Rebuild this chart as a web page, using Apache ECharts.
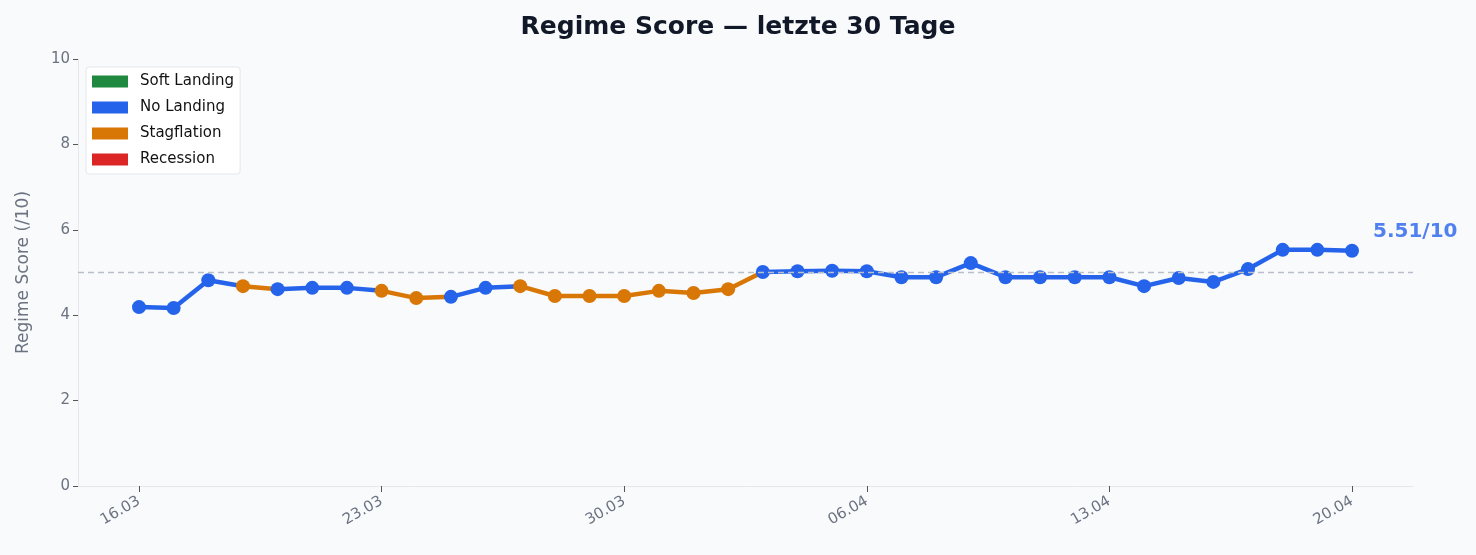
<!DOCTYPE html>
<html><head><meta charset="utf-8">
<script src="https://cdn.jsdelivr.net/npm/echarts@6/dist/echarts.min.js"></script>
<style>html,body{margin:0;padding:0;background:#f8fafc}#c{width:1476px;height:555px}</style>
</head><body><div id="c"></div>
<script>
const dates = ["16.03","17.03","18.03","19.03","20.03","21.03","22.03","23.03","24.03","25.03","26.03","27.03","28.03","29.03","30.03","31.03","01.04","02.04","03.04","04.04","05.04","06.04","07.04","08.04","09.04","10.04","11.04","12.04","13.04","14.04","15.04","16.04","17.04","18.04","19.04","20.04"];
const scores = [4.19,4.17,4.82,4.68,4.61,4.64,4.64,4.57,4.40,4.43,4.64,4.68,4.45,4.45,4.45,4.57,4.52,4.61,5.01,5.03,5.04,5.03,4.89,4.89,5.22,4.89,4.89,4.89,4.89,4.68,4.87,4.78,5.08,5.53,5.53,5.51];
const regimes = ["N","N","N","S","N","N","N","S","S","N","N","S","S","S","S","S","S","S","N","N","N","N","N","N","N","N","N","N","N","N","N","N","N","N","N","N"];
const tickLabels = ["16.03","23.03","30.03","06.04","13.04","20.04"];
const tickIdx = [0,7,14,21,28,35];
const regimeNames = ["Soft Landing","No Landing","Stagflation","Recession"];
const regimeColors = {"Soft Landing":"#1f8a3f","No Landing":"#2563eb","Stagflation":"#d97706","Recession":"#dc2626"};
const code = {N:"No Landing",S:"Stagflation",G:"Soft Landing",R:"Recession"};

const series = [];
regimeNames.forEach(n => series.push({name:n,type:'line',data:[],itemStyle:{color:regimeColors[n]},lineStyle:{color:regimeColors[n]}}));
for (let i=0;i<scores.length-1;i++){
  const c = regimeColors[code[regimes[i]]];
  series.push({type:'line',silent:true,symbol:'none',data:[[i,scores[i]],[i+1,scores[i+1]]],lineStyle:{width:4.5,color:c},z:2});
}
series.push({type:'scatter',symbolSize:14,z:3,
  data:scores.map((v,i)=>({value:[i,v],itemStyle:{color:regimeColors[code[regimes[i]]],opacity:1}})),
  markLine:{silent:true,symbol:'none',label:{show:false},lineStyle:{color:'#b8bfcb',type:[6,4],width:1.3},data:[{yAxis:5}]}
});
series.push({type:'scatter',symbolSize:0,data:[[scores.length-1,scores[scores.length-1]]],
  label:{show:true,position:[21,-29],formatter:p=>p.value[1].toFixed(2)+'/10',color:'#2563eb',fontWeight:'bold',fontSize:20,fontFamily:'DejaVu Sans'}});

const chart = echarts.init(document.getElementById('c'));
chart.setOption({
  backgroundColor:'#f8fafc',
  animation:false,
  textStyle:{fontFamily:'DejaVu Sans'},
  title:{text:'Regime Score — letzte 30 Tage',left:'center',top:10,textStyle:{fontSize:25,fontWeight:'bold',color:'#111827',fontFamily:'DejaVu Sans'}},
  legend:{data:regimeNames,orient:'vertical',left:86,top:67,icon:'rect',itemWidth:36,itemHeight:12,itemGap:11,
    backgroundColor:'#ffffff',borderColor:'#e5e7eb',borderWidth:1,borderRadius:3,padding:[7,6,7,6],
    textStyle:{fontSize:15,color:'#111',padding:[0,0,0,7]}},
  grid:{left:78,right:63,top:59,bottom:69},
  xAxis:{type:'value',min:-1.76,max:36.76,
    axisLine:{lineStyle:{color:'#e5e7eb'}},
    axisTick:{show:true,customValues:tickIdx,length:6,lineStyle:{color:'#555'}},
    axisLabel:{customValues:tickIdx,formatter:v=>tickLabels[tickIdx.indexOf(Math.round(v))]||'',rotate:30,color:'#6b7280',fontSize:15,margin:14},
    splitLine:{show:false}},
  yAxis:{type:'value',min:0,max:10,interval:2,name:'Regime Score (/10)',nameLocation:'middle',nameGap:46,
    nameTextStyle:{color:'#6b7280',fontSize:17},
    axisLine:{show:true,onZero:false,lineStyle:{color:'#e5e7eb'}},
    axisTick:{show:true,length:5,lineStyle:{color:'#555'}},
    axisLabel:{color:'#6b7280',fontSize:15},splitLine:{show:false}},
  series:series
});
</script></body></html>
